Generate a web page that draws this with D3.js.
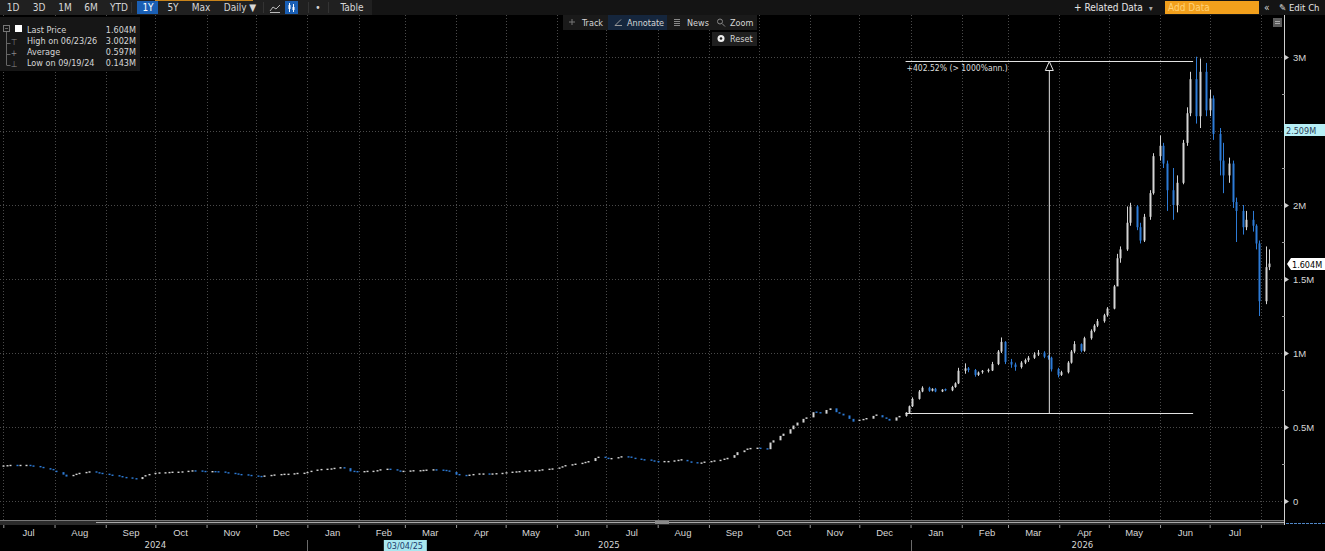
<!DOCTYPE html>
<html>
<head>
<meta charset="utf-8">
<script src="https://cdn.jsdelivr.net/npm/d3@7"></script>
<style>
body{margin:0;background:#000;overflow:hidden}
svg{display:block;font-family:'DejaVu Sans Condensed','Liberation Sans Narrow','DejaVu Sans',sans-serif;font-stretch:condensed}
</style>
</head>
<body>
<svg id="chart" width="1325" height="551"></svg>
<script>
// closes in thousands, one candle every 2nd weekday from 2024-07-01
var closes = [
  236,238,240,238,240, 240,236,232,226,222, 212,205,195,178,165, 172,180,186,192,196,
  190,186,180,174,170, 164,158,155,150,148, 162,170,178,186,189, 190,192,194,194,196,
  200,203,202,199,196, 198,197,195,190,186, 182,178,176,172,168, 165,164,168,172,175,
  178,180,180,183,186, 187,192,200,208,212, 214,216,220,224,222, 200,198,196,198,200,
  200,204,210,214,210, 202,198,200,202,204, 204,206,208,210,208, 206,202,196,178,172,
  170,174,178,182,182, 180,182,184,186,190, 194,196,198,202,204, 204,206,210,214,216,
  222,230,238,244,248, 254,260,270,290,295, 288,284,286,292,298, 296,288,282,278,276,
  270,266,264,266,266, 270,274,278,268,258, 252,256,262,266,270, 274,282,292,310,330,
  342,350,354,356,352, 350,395,410,440,455, 485,510,530,555,565, 600,596,590,615,626,
  600,590,578,555,536, 545,550,556,575,580, 565,555,543,565,575, 597,640,690,740,765,
  745,758,740,752,748, 770,795,880,896,885, 852,868,875,882,925, 1010,1075,940,922,905,
  935,952,968,990,1002, 975,968,890,852,870, 935,1010,1060,1015,1100, 1150,1185,1215,1255,1300,
  1450,1640,1700,1880,1990, 1850,1760,1920,2080,2330, 2400,2280,2100,2000,2150, 2420,2620,2850,2600,2900,
  2640,2720,2480,2300,2200, 2280,2020,1960,1850,1900, 1860,1740,1350,1580,1604
];
// wicks readable from candle 195 (late Dec 2025) on
var wickStart = 195;
var highs = [
  600,645,700,750,775, 772,762,764,756,760, 778,802,900,930,905, 892,875,885,895,940,
  1020,1105,1080,960,935, 945,962,980,1005,1020, 1012,985,975,900,880, 945,1020,1080,1065,1110,
  1160,1195,1230,1265,1310, 1460,1670,1720,1990,2015, 2000,1880,1940,2100,2350, 2470,2420,2300,2250,2200,
  2440,2660,2900,3002,2990, 2960,2780,2740,2520,2420, 2320,2300,2050,2000,1960, 1960,1870,1760,1720,1700
];
var lows = [
  570,592,635,685,735, 738,740,735,736,742, 742,765,790,860,870, 840,845,860,868,878,
  918,1000,925,900,880, 895,925,940,960,980, 965,955,875,835,845, 862,928,1000,1005,1008,
  1090,1140,1175,1205,1245, 1295,1600,1610,1690,1860, 1830,1740,1750,1900,2070, 2300,2250,1960,1900,1950,
  2140,2400,2600,2550,2520, 2600,2600,2440,2200,2080, 2150,1980,1750,1800,1830, 1820,1700,1250,1330,1560
];
var yTicks = [0, 500000, 1000000, 1500000, 2000000, 2500000, 3000000];
var yearLabels = ['2024', '2025', '2026'];
var legendNames = ['Last Price', 'High on 06/23/26', 'Average', 'Low on 09/19/24'];
var legendValues = ['1.604M', '3.002M', '0.597M', '0.143M'];
var lastPrice = 1604000, markPrice = 2509000;
var annFrom = new Date(2025, 11, 29), annTo = new Date(2026, 5, 21);
var annLow = 597000, annHigh = 2970000, annText = '+402.52% (> 1000%ann.)';
var cursorDate = new Date(2025, 2, 4);

var W = 1325, H = 551, plotRight = 1284, plotTop = 15, plotBottom = 520;
var upColor = '#d4d4d4', downColor = '#2d7bd6', txt = '#d6d6d6';
var svg = d3.select('#chart');
svg.append('rect').attr('width', W).attr('height', H).attr('fill', '#000');

var x = d3.scaleTime().domain([new Date(2024, 5, 29), new Date(2026, 7, 15)]).range([0, plotRight]);
var y = d3.scaleLinear().domain([0, 3000000]).range([501, 57]);

// candle dates: every second weekday
var dates = [];
var day = new Date(2024, 6, 1), n = 0;
while (dates.length < closes.length) {
    var wd = day.getDay();
    if (wd > 0 && wd < 6) {
        if (n % 2 === 0) dates.push(new Date(day));
        n++;
    }
    day = d3.timeDay.offset(day, 1);
}

var candles = closes.map(function(c, i) {
    var o = i ? closes[i - 1] : c;
    var k = i - wickStart;
    return {
        date: dates[i], o: o * 1000, c: c * 1000,
        h: (k >= 0 ? highs[k] : Math.max(o, c)) * 1000,
        l: (k >= 0 ? lows[k] : Math.min(o, c)) * 1000
    };
});

// grid
var months = d3.timeMonth.range(d3.timeMonth.ceil(x.domain()[0]), x.domain()[1]);
svg.append('g').selectAll('line').data(months).enter().append('line')
    .attr('x1', d => Math.round(x(d)) + 0.5).attr('x2', d => Math.round(x(d)) + 0.5)
    .attr('y1', plotTop).attr('y2', plotBottom)
    .attr('stroke', '#4a4a4a').attr('stroke-dasharray', '1,2');
svg.append('g').selectAll('line').data(yTicks).enter().append('line')
    .attr('x1', 0).attr('x2', plotRight)
    .attr('y1', d => Math.round(y(d)) + 0.5).attr('y2', d => Math.round(y(d)) + 0.5)
    .attr('stroke', '#4a4a4a').attr('stroke-dasharray', '1,2');

// candles
var cg = svg.append('g');
cg.selectAll('line').data(candles.filter((d, i) => i >= wickStart)).enter().append('line')
    .attr('x1', d => Math.round(x(d.date)) + 0.5).attr('x2', d => Math.round(x(d.date)) + 0.5)
    .attr('y1', d => y(d.h)).attr('y2', d => y(d.l))
    .attr('stroke', d => d.c >= d.o ? upColor : downColor).attr('stroke-width', 1);
cg.selectAll('rect').data(candles).enter().append('rect')
    .attr('x', d => Math.round(x(d.date)) - 0.5)
    .attr('width', 2)
    .attr('y', d => Math.min(y(d.o), y(d.c)) - (Math.abs(y(d.o) - y(d.c)) < 1.4 ? 0.7 : 0))
    .attr('height', d => Math.max(1.4, Math.abs(y(d.o) - y(d.c))))
    .attr('fill', d => d.c >= d.o ? upColor : downColor);

// measure annotation
var ax1 = x(annFrom), ax2 = x(annTo), axm = (ax1 + ax2) / 2;
var ayL = Math.round(y(annLow)) + 0.5, ayH = Math.round(y(annHigh)) + 0.5;
var ann = svg.append('g').attr('stroke', '#e2e2e2').attr('fill', 'none');
ann.append('line').attr('x1', ax1).attr('x2', ax2).attr('y1', ayL).attr('y2', ayL);
ann.append('line').attr('x1', ax1).attr('x2', ax2).attr('y1', ayH).attr('y2', ayH);
ann.append('line').attr('x1', axm).attr('x2', axm).attr('y1', ayH + 9).attr('y2', ayL);
ann.append('path').attr('d', `M${axm},${ayH}L${axm - 4},${ayH + 9}L${axm + 4},${ayH + 9}Z`).attr('fill', '#000');
svg.append('text').attr('x', ax1 + 1).attr('y', ayH + 9).attr('font-size', 8.5).attr('fill', '#dcdcdc').text(annText);

// right axis
svg.append('line').attr('x1', plotRight + 0.5).attr('x2', plotRight + 0.5).attr('y1', plotTop).attr('y2', plotBottom + 5)
    .attr('stroke', '#d0d0d0');
var yAxis = d3.axisRight(y).tickValues(yTicks).tickSize(0).tickPadding(9)
    .tickFormat(d => d === 0 ? '0' : (d / 1e6) + 'M');
var yg = svg.append('g').attr('transform', `translate(${plotRight},0)`).call(yAxis);
yg.select('.domain').remove();
yg.selectAll('text').attr('fill', txt).attr('font-size', 9.5).attr('font-family', null);
// the 2.5M label sits under the marker box
yg.selectAll('.tick').filter(d => d === 2500000).select('text').remove();
yg.selectAll('.tick').append('path').attr('d', 'M1,-2.5L5,0L1,2.5Z').attr('fill', '#d0d0d0');
svg.append('g').selectAll('line').data(d3.range(250000, 3000000, 500000)).enter().append('line')
    .attr('x1', plotRight - 2).attr('x2', plotRight + 1)
    .attr('y1', d => Math.round(y(d)) + 0.5).attr('y2', d => Math.round(y(d)) + 0.5)
    .attr('stroke', '#9a9a9a');

// price boxes
var my = Math.round(y(markPrice));
svg.append('rect').attr('x', plotRight).attr('y', my - 6).attr('width', 41).attr('height', 12).attr('fill', '#b7eff6');
svg.append('text').attr('x', plotRight + 2).attr('y', my + 3.5).attr('font-size', 9).attr('fill', '#2b3d55')
    .text(d3.format('.3f')(markPrice / 1e6) + 'M');
var ly = Math.round(y(lastPrice));
svg.append('path').attr('d', `M${plotRight + 3},${ly}L${plotRight + 7},${ly - 6}L${W},${ly - 6}L${W},${ly + 6}L${plotRight + 7},${ly + 6}Z`)
    .attr('fill', '#fff');
svg.append('text').attr('x', plotRight + 8).attr('y', ly + 3.5).attr('font-size', 9).attr('fill', '#000')
    .text(d3.format('.3f')(lastPrice / 1e6) + 'M');
svg.append('rect').attr('x', 1273).attr('y', 18).attr('width', 9).attr('height', 9).attr('fill', '#5a5a5a');
svg.append('path').attr('d', 'M1275,21.5h5M1275,23.5h5').attr('stroke', '#aaa');

// scroll band and x axis
svg.append('rect').attr('x', 0).attr('y', plotBottom).attr('width', plotRight).attr('height', 5).attr('fill', '#2b2b2b');
svg.append('line').attr('x1', 0).attr('x2', plotRight).attr('y1', plotBottom + 0.5).attr('y2', plotBottom + 0.5).attr('stroke', '#777');
svg.append('line').attr('x1', 96).attr('x2', plotRight).attr('y1', plotBottom + 2.5).attr('y2', plotBottom + 2.5).attr('stroke', '#a8a8a8');
svg.append('rect').attr('x', 655).attr('y', plotBottom + 1).attr('width', 14).attr('height', 3).attr('fill', '#8a8a8a');
svg.append('line').attr('x1', plotRight + 2).attr('x2', W).attr('y1', plotBottom + 3.5).attr('y2', plotBottom + 3.5)
    .attr('stroke', '#4f86c6').attr('stroke-dasharray', '3,1');

var xTicks = d3.axisBottom(x).tickValues(months).tickSize(3).tickFormat('');
var xg = svg.append('g').attr('transform', `translate(0,${plotBottom + 5})`).call(xTicks);
xg.select('.domain').remove();
xg.selectAll('line').attr('stroke', '#9a9a9a');
var mids = months.map(d => d3.timeDay.offset(d, 15));
var xLabels = d3.axisBottom(x).tickValues(mids.filter(d => x(d) < plotRight - 20)).tickSize(0).tickPadding(0)
    .tickFormat(d3.timeFormat('%b'));
var xl = svg.append('g').attr('transform', `translate(0,${plotBottom + 9})`).call(xLabels);
xl.select('.domain').remove();
xl.selectAll('text').attr('fill', txt).attr('font-size', 9.5).attr('font-family', null);

var yearStarts = [new Date(2024, 6, 1), new Date(2025, 0, 1), new Date(2026, 0, 1)];
var yearEnds = [new Date(2025, 0, 1), new Date(2026, 0, 1), new Date(2026, 6, 28)];
svg.append('g').selectAll('text').data(yearLabels).enter().append('text')
    .attr('x', (d, i) => (x(yearStarts[i]) + x(yearEnds[i])) / 2).attr('y', 548)
    .attr('text-anchor', 'middle').attr('font-size', 9.5).attr('fill', txt).text(d => d);
svg.append('g').selectAll('line').data(yearStarts.slice(1)).enter().append('line')
    .attr('x1', d => Math.round(x(d)) + 0.5).attr('x2', d => Math.round(x(d)) + 0.5)
    .attr('y1', 540).attr('y2', H).attr('stroke', '#6a6a6a');
var cx = x(cursorDate) - 5;
svg.append('rect').attr('x', cx - 21).attr('y', 540).attr('width', 43).attr('height', 11).attr('fill', '#a9e7ef');
svg.append('text').attr('x', cx).attr('y', 548.5).attr('text-anchor', 'middle').attr('font-size', 9)
    .attr('fill', '#1d3d6e').text(d3.timeFormat('%m/%d/%y')(cursorDate));

// legend
svg.append('rect').attr('x', 0).attr('y', 17).attr('width', 140).attr('height', 54).attr('fill', '#161616');
svg.append('rect').attr('x', 15).attr('y', 25).attr('width', 7).attr('height', 7).attr('fill', '#fff');
svg.append('rect').attr('x', 3.5).attr('y', 25.5).attr('width', 6).attr('height', 6).attr('fill', 'none').attr('stroke', '#777');
svg.append('path').attr('d', 'M5,28.5h3M6.5,32v33M6.5,43.5h4M6.5,54.5h4M6.5,65.5h4').attr('stroke', '#666').attr('fill', 'none');
svg.append('g').selectAll('text').data(['⊤', '+', '⊥']).enter().append('text')
    .attr('x', 14).attr('y', (d, i) => 44.5 + i * 11).attr('font-size', 8.5).attr('fill', '#888')
    .attr('text-anchor', 'middle').text(d => d);
svg.append('g').selectAll('text').data(legendNames).enter().append('text')
    .attr('x', 27).attr('y', (d, i) => 32.5 + i * 11).attr('font-size', 9).attr('fill', txt).text(d => d);
svg.append('g').selectAll('text').data(legendValues).enter().append('text')
    .attr('x', 136).attr('y', (d, i) => 32.5 + i * 11).attr('text-anchor', 'end')
    .attr('font-size', 9).attr('fill', txt).text(d => d);

// top toolbar
svg.append('rect').attr('x', 0).attr('y', 0).attr('width', W).attr('height', 15).attr('fill', '#141414');
svg.append('rect').attr('x', 0).attr('y', 0).attr('width', 372).attr('height', 15).attr('fill', '#202020');
svg.append('rect').attr('x', 155).attr('y', 0).attr('width', 98).attr('height', 1).attr('fill', '#c8841c');
svg.append('rect').attr('x', 137).attr('y', 1).attr('width', 21).attr('height', 13).attr('fill', '#1a5fb4');
svg.append('rect').attr('x', 285).attr('y', 1).attr('width', 13).attr('height', 13).attr('fill', '#1a5fb4');
var buttons = [['1D', 13], ['3D', 39], ['1M', 65], ['6M', 91], ['YTD', 119], ['1Y', 148], ['5Y', 173],
    ['Max', 201], ['Daily ▼', 240], ['•', 318], ['Table', 352]];
svg.append('g').selectAll('text').data(buttons).enter().append('text')
    .attr('x', d => d[1]).attr('y', 11).attr('text-anchor', 'middle').attr('font-size', 10)
    .attr('fill', d => d[0] === '1Y' ? '#fff' : txt).text(d => d[0]);
svg.append('path').attr('d', 'M270,11L273,7L276,9L280,5M270,12.5h10').attr('stroke', '#bbb').attr('fill', 'none');
svg.append('path').attr('d', 'M289.5,3v9M293.5,4v8').attr('stroke', '#fff');
svg.append('path').attr('d', 'M288.5,5h2v4h-2zM292.5,7h2v3h-2z').attr('fill', '#fff');
svg.append('g').selectAll('line').data([131, 263, 308, 328]).enter().append('line')
    .attr('x1', d => d + 0.5).attr('x2', d => d + 0.5).attr('y1', 2).attr('y2', 13).attr('stroke', '#333');

svg.append('text').attr('x', 1074).attr('y', 11).attr('font-size', 10).attr('fill', '#e6e6e6').text('+ Related Data');
svg.append('text').attr('x', 1149).attr('y', 11).attr('font-size', 8).attr('fill', '#aaa').text('▾');
svg.append('rect').attr('x', 1165).attr('y', 1).attr('width', 94).attr('height', 13).attr('fill', '#f2a01c');
svg.append('text').attr('x', 1168).attr('y', 11).attr('font-size', 10).attr('fill', '#ffd277').text('Add Data');
svg.append('text').attr('x', 1264).attr('y', 11).attr('font-size', 10).attr('fill', '#ddd').text('«');
svg.append('text').attr('x', 1279).attr('y', 11).attr('font-size', 9.5).attr('fill', '#e6e6e6').text('✎ Edit Ch');

// chart tools
svg.append('rect').attr('x', 563).attr('y', 15).attr('width', 194).attr('height', 15).attr('fill', '#1a1a1a');
svg.append('rect').attr('x', 608).attr('y', 15).attr('width', 59).attr('height', 15).attr('fill', '#15263d');
svg.append('rect').attr('x', 712).attr('y', 32).attr('width', 45).attr('height', 14).attr('fill', '#1f1f1f');
var tools = [['Track', 582], ['Annotate', 627], ['News', 687], ['Zoom', 730]];
svg.append('g').selectAll('text').data(tools).enter().append('text')
    .attr('x', d => d[1]).attr('y', 26).attr('font-size', 9).attr('fill', txt).text(d => d[0]);
svg.append('text').attr('x', 730).attr('y', 42).attr('font-size', 9).attr('fill', txt).text('Reset');
svg.append('path').attr('d', 'M572,19v6M569,22h6').attr('stroke', '#777');
svg.append('path').attr('d', 'M615,25.5l6,-6M615,25.5h7').attr('stroke', '#999').attr('fill', 'none');
svg.append('path').attr('d', 'M674,19.5h6M674,21.5h6M674,23.5h6M674,25.5h6').attr('stroke', '#888');
svg.append('circle').attr('cx', 720).attr('cy', 21.5).attr('r', 2.5).attr('stroke', '#888').attr('fill', 'none');
svg.append('path').attr('d', 'M722,23.5l3,3').attr('stroke', '#888');
svg.append('circle').attr('cx', 721).attr('cy', 38.5).attr('r', 3.5).attr('fill', '#eee');
svg.append('circle').attr('cx', 721).attr('cy', 38.5).attr('r', 1.3).attr('fill', '#1f1f1f');
</script>
</body>
</html>
